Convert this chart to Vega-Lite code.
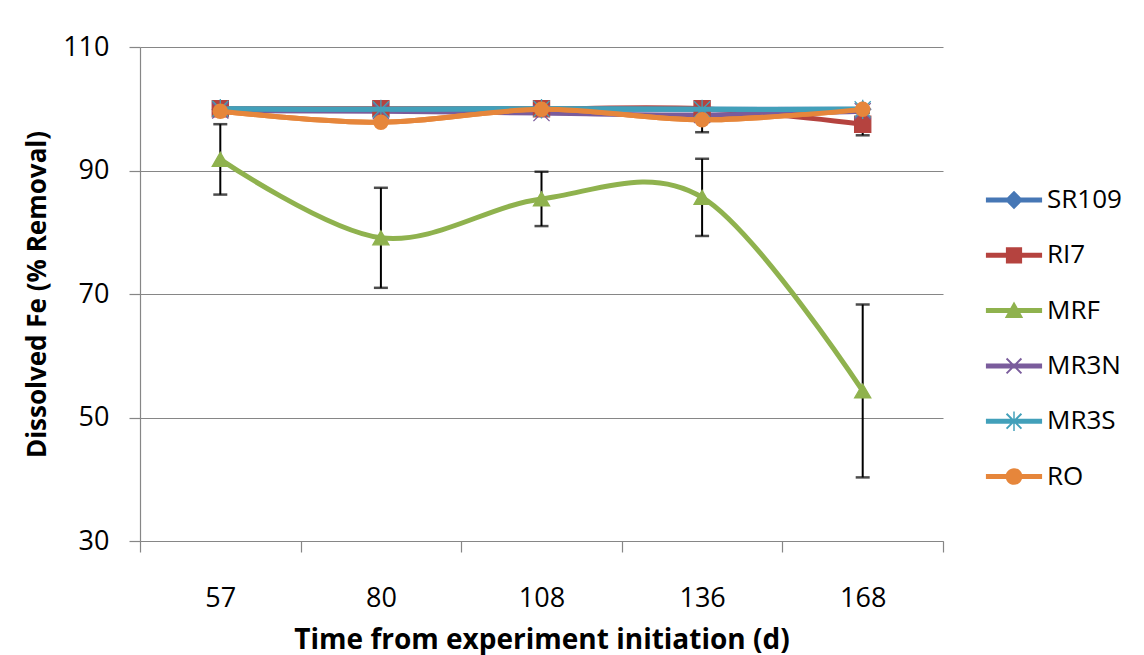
{
  "$schema": "https://vega.github.io/schema/vega-lite/v6.json",
  "width": 803,
  "height": 494,
  "autosize": {"type": "none"},
  "padding": {"left": 140, "top": 47, "right": 201, "bottom": 114},
  "background": "white",
  "config": {
    "view": {"stroke": null},
    "font": "Open Sans",
    "axis": {"labelFont": "Open Sans", "titleFont": "Open Sans", "labelColor": "black", "titleColor": "black", "domainColor": "#868686", "tickColor": "#868686", "gridColor": "#868686", "domainWidth": 1.2, "tickWidth": 1.2, "gridWidth": 1.2},
    "legend": {"labelFont": "Open Sans"}
  },
  "data": {
    "values": [
      {"day": "57", "series": "SR109", "value": 99.9, "lo": null, "hi": null},
      {"day": "80", "series": "SR109", "value": 99.9, "lo": null, "hi": null},
      {"day": "108", "series": "SR109", "value": 99.9, "lo": null, "hi": null},
      {"day": "136", "series": "SR109", "value": 99.9, "lo": null, "hi": null},
      {"day": "168", "series": "SR109", "value": 99.9, "lo": null, "hi": null},
      {"day": "57", "series": "RI7", "value": 100.0, "lo": null, "hi": null},
      {"day": "80", "series": "RI7", "value": 100.0, "lo": null, "hi": null},
      {"day": "108", "series": "RI7", "value": 100.0, "lo": null, "hi": null},
      {"day": "136", "series": "RI7", "value": 100.0, "lo": null, "hi": null},
      {"day": "168", "series": "RI7", "value": 97.5, "lo": 95.7, "hi": 99.3},
      {"day": "57", "series": "MRF", "value": 91.8, "lo": 86.1, "hi": 97.5},
      {"day": "80", "series": "MRF", "value": 79.1, "lo": 71.0, "hi": 87.2},
      {"day": "108", "series": "MRF", "value": 85.4, "lo": 81.0, "hi": 89.8},
      {"day": "136", "series": "MRF", "value": 85.65, "lo": 79.4, "hi": 91.9},
      {"day": "168", "series": "MRF", "value": 54.3, "lo": 40.3, "hi": 68.3},
      {"day": "57", "series": "MR3N", "value": 99.7, "lo": null, "hi": null},
      {"day": "80", "series": "MR3N", "value": 99.6, "lo": null, "hi": null},
      {"day": "108", "series": "MR3N", "value": 99.3, "lo": 99.1, "hi": 99.5},
      {"day": "136", "series": "MR3N", "value": 99.0, "lo": null, "hi": null},
      {"day": "168", "series": "MR3N", "value": 99.6, "lo": null, "hi": null},
      {"day": "57", "series": "MR3S", "value": 100.0, "lo": null, "hi": null},
      {"day": "80", "series": "MR3S", "value": 99.9, "lo": null, "hi": null},
      {"day": "108", "series": "MR3S", "value": 100.0, "lo": null, "hi": null},
      {"day": "136", "series": "MR3S", "value": 99.9, "lo": null, "hi": null},
      {"day": "168", "series": "MR3S", "value": 99.9, "lo": null, "hi": null},
      {"day": "57", "series": "RO", "value": 99.6, "lo": null, "hi": null},
      {"day": "80", "series": "RO", "value": 97.8, "lo": null, "hi": null},
      {"day": "108", "series": "RO", "value": 99.9, "lo": null, "hi": null},
      {"day": "136", "series": "RO", "value": 98.2, "lo": 96.2, "hi": 100.2},
      {"day": "168", "series": "RO", "value": 99.9, "lo": null, "hi": null}
    ]
  },
  "encoding": {
    "x": {
      "field": "day", "type": "ordinal", "sort": ["57", "80", "108", "136", "168"],
      "scale": {"type": "band", "paddingInner": 0, "paddingOuter": 0},
      "axis": {"title": "Time from experiment initiation (d)", "titleFontSize": 28, "titleFontWeight": "bold", "labelFontSize": 27, "labelAngle": 0, "tickBand": "extent", "tickSize": 11, "labelPadding": 33, "titlePadding": 15, "grid": false}
    }
  },
  "layer": [
    {
      "mark": {"type": "rule", "color": "black", "strokeWidth": 2},
      "encoding": {
        "y": {"field": "lo", "type": "quantitative", "scale": {"domain": [30, 110], "nice": false, "zero": false},
          "axis": {"title": "Dissolved Fe (% Removal)", "titleFontSize": 26, "titleFontWeight": "bold", "labelFontSize": 27, "values": [30, 50, 70, 90, 110], "tickSize": 11, "labelPadding": 20, "titlePadding": 12, "grid": true}},
        "y2": {"field": "hi"}
      }
    },
    {
      "mark": {"type": "tick", "color": "black", "size": 14, "thickness": 2.5},
      "encoding": {"y": {"field": "lo", "type": "quantitative"}}
    },
    {
      "mark": {"type": "tick", "color": "black", "size": 14, "thickness": 2.5},
      "encoding": {"y": {"field": "hi", "type": "quantitative"}}
    },
    {
      "mark": {"type": "line", "strokeWidth": 5, "interpolate": "cardinal", "tension": 0},
      "encoding": {
        "y": {"field": "value", "type": "quantitative"},
        "color": {"field": "series", "type": "nominal", "legend": null,
          "scale": {"domain": ["SR109", "RI7", "MRF", "MR3N", "MR3S", "RO"], "range": ["#4677B5", "#B5433F", "#8FB24E", "#7A5C9C", "#42A0BA", "#E6863B"]}}
      }
    },
    {
      "transform": [{"filter": "datum.series !== 'RO'"}],
      "mark": {"type": "point", "filled": true, "opacity": 1, "strokeWidth": 1.3},
      "encoding": {
        "y": {"field": "value", "type": "quantitative"},
        "fill": {"field": "series", "type": "nominal", "legend": null,
          "scale": {"domain": ["SR109", "RI7", "MRF", "MR3N", "MR3S", "RO"], "range": ["#4677B5", "#B5433F", "#8FB24E", "#7A5C9C", "#42A0BA", "#E6863B"]}},
        "stroke": {"field": "series", "type": "nominal", "legend": null,
          "scale": {"domain": ["SR109", "RI7", "MRF", "MR3N", "MR3S", "RO"], "range": ["#4677B5", "#B5433F", "#8FB24E", "#7A5C9C", "#42A0BA", "#E6863B"]}},
        "shape": {"field": "series", "type": "nominal", "legend": null,
          "scale": {"domain": ["SR109", "RI7", "MRF", "MR3N", "MR3S", "RO"], "range": ["diamond", "square", "triangle-up", "M-1,-1L1,1M-1,1L1,-1", "M-1,-1L1,1M-1,1L1,-1M0,-1.2L0,1.2", "circle"]}},
        "size": {"value": 260}
      }
    },
    {
      "transform": [{"filter": "datum.series === 'MR3S'"}],
      "mark": {"type": "line", "strokeWidth": 5, "interpolate": "cardinal", "tension": 0},
      "encoding": {
        "y": {"field": "value", "type": "quantitative"},
        "color": {"field": "series", "type": "nominal", "legend": null,
          "scale": {"domain": ["SR109", "RI7", "MRF", "MR3N", "MR3S", "RO"], "range": ["#4677B5", "#B5433F", "#8FB24E", "#7A5C9C", "#42A0BA", "#E6863B"]}}
      }
    },
    {
      "transform": [{"filter": "datum.series === 'RO'"}],
      "mark": {"type": "line", "strokeWidth": 5, "interpolate": "cardinal", "tension": 0},
      "encoding": {
        "y": {"field": "value", "type": "quantitative"},
        "color": {"field": "series", "type": "nominal", "legend": null,
          "scale": {"domain": ["SR109", "RI7", "MRF", "MR3N", "MR3S", "RO"], "range": ["#4677B5", "#B5433F", "#8FB24E", "#7A5C9C", "#42A0BA", "#E6863B"]}}
      }
    },
    {
      "transform": [{"filter": "datum.series === 'RO'"}],
      "mark": {"type": "circle", "opacity": 1, "size": 240},
      "encoding": {
        "y": {"field": "value", "type": "quantitative"},
        "color": {"field": "series", "type": "nominal", "legend": null,
          "scale": {"domain": ["SR109", "RI7", "MRF", "MR3N", "MR3S", "RO"], "range": ["#4677B5", "#B5433F", "#8FB24E", "#7A5C9C", "#42A0BA", "#E6863B"]}}
      }
    },
    {
      "transform": [{"filter": "datum.value > 1000"}],
      "mark": {"type": "point", "filled": true, "opacity": 1},
      "encoding": {
        "y": {"field": "value", "type": "quantitative"},
        "color": {"field": "series", "type": "nominal",
          "scale": {"domain": ["SR109", "RI7", "MRF", "MR3N", "MR3S", "RO"], "range": ["#4677B5", "#B5433F", "#8FB24E", "#7A5C9C", "#42A0BA", "#E6863B"]},
          "legend": {"title": null, "orient": "none", "legendX": 847, "legendY": 126, "symbolSize": 2916, "symbolOpacity": 1, "symbolStrokeWidth": 0, "labelFontSize": 26, "labelColor": "black", "labelOffset": 6, "rowPadding": 15.3, "padding": 0}},
        "shape": {"field": "series", "type": "nominal",
          "scale": {"domain": ["SR109", "RI7", "MRF", "MR3N", "MR3S", "RO"], "range": [
            "M-1.04,-0.093H1.04V0.093H-1.04Z M0,-0.34L0.34,0L0,0.34L-0.34,0Z",
            "M-1.04,-0.093H1.04V0.093H-1.04Z M-0.3,-0.3H0.3V0.3H-0.3Z",
            "M-1.04,-0.093H1.04V0.093H-1.04Z M0,-0.34L0.34,0.27H-0.34Z",
            "M-1.04,-0.093H1.04V0.093H-1.04Z M-0.25,-0.3L0.3,0.25L0.25,0.3L-0.3,-0.25Z M0.25,-0.3L0.3,-0.25L-0.25,0.3L-0.3,0.25Z",
            "M-1.04,-0.093H1.04V0.093H-1.04Z M-0.25,-0.3L0.3,0.25L0.25,0.3L-0.3,-0.25Z M0.25,-0.3L0.3,-0.25L-0.25,0.3L-0.3,0.25Z M-0.027,-0.36H0.027V0.36H-0.027Z",
            "M-1.04,-0.093H1.04V0.093H-1.04Z M-0.31,0A0.31,0.31 0 1,1 0.31,0A0.31,0.31 0 1,1 -0.31,0Z"
          ]}
        }
      }
    }
  ],
  "resolve": {
    "scale": {"color": "independent", "shape": "independent", "fill": "independent", "stroke": "independent"},
    "legend": {"color": "independent", "shape": "independent", "fill": "independent", "stroke": "independent"}
  }
}
